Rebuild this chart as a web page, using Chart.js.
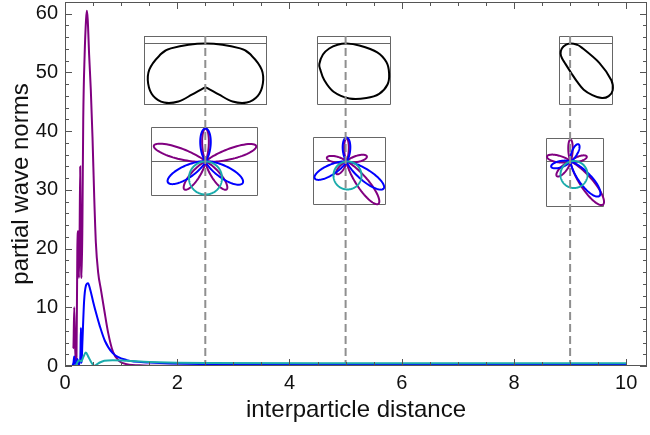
<!DOCTYPE html>
<html>
<head>
<meta charset="utf-8">
<script src="https://cdn.jsdelivr.net/npm/chart.js@4"></script>
<style>
  html, body { margin: 0; padding: 0; background: #fff; }
  #wrap { width: 650px; height: 435px; }
</style>
</head>
<body>
<div id="wrap"><canvas id="chart" width="650" height="435"></canvas></div>
<script>
// axis ticks
const xTicks = [0, 2, 4, 6, 8, 10];
const yTicks = [0, 10, 20, 30, 40, 50, 60];

// partial wave norms
const purpleX = [0.14, 0.15, 0.165, 0.185, 0.205, 0.22, 0.235, 0.248, 0.26, 0.271, 0.285, 0.296, 0.31, 0.325, 0.35, 0.375, 0.39, 0.405, 0.43, 0.46, 0.49, 0.52, 0.55, 0.59, 0.64, 0.7, 0.77, 0.855, 0.97, 1.1, 1.4, 2.0, 3.0, 10];
const purpleY = [3, 3.2, 10, 1, 1.5, 20, 23, 15, 22, 34, 18, 15, 24, 42, 53, 59, 60.5, 59, 53, 47, 39, 29, 21, 16, 13, 9.5, 5.6, 2.4, 0.8, 0.3, 0.1, 0.03, 0.02, 0.02];

const blueX = [0.13, 0.15, 0.165, 0.18, 0.2, 0.22, 0.24, 0.26, 0.275, 0.283, 0.295, 0.31, 0.34, 0.37, 0.41, 0.45, 0.5, 0.56, 0.62, 0.71, 0.85, 1.1, 1.5, 2.4, 5, 10];
const blueY = [0, 0.5, 1.6, 0.2, 0.3, 1.2, 0.2, 0.5, 2, 6.5, 0.5, 4, 11, 13.6, 14.1, 13, 11, 8.8, 6.8, 4.3, 2.2, 1.0, 0.6, 0.35, 0.3, 0.3];

const cyanX = [0.19, 0.22, 0.25, 0.29, 0.33, 0.37, 0.42, 0.47, 0.52, 0.6, 0.7, 0.85, 1.1, 1.5, 2.5, 5, 10];
const cyanY = [0, 0.6, 1.0, 0.8, 1.6, 2.3, 1.5, 0.6, 0.05, 0.5, 0.9, 1.0, 0.9, 0.7, 0.5, 0.45, 0.45];

// where the angular insets sit (interparticle distance) and the dashed markers
const insetX = [2.5, 5, 9];
const markerTop = 56.2;
const upperOriginY = 55;
const lowerOriginY = 35;

// upper insets: polar outline, angle below the horizontal (deg) -> radius
const shapeAngles = [
  [0, 8, 15, 25, 35, 45, 55, 65, 75, 85, 90, 95, 105, 115, 125, 135, 145, 155, 165, 172],
  [0, 9, 16, 25, 35, 45, 57, 70, 87, 105, 121, 135, 143, 155, 164, 172],
  [0, 10, 20, 34, 42, 48, 54, 60, 67, 74, 80, 88, 104, 120, 135, 150, 165]
];
const shapeRadii = [
  [0, 35, 48, 62, 70, 74, 72, 64, 53, 46, 44, 46, 53, 64, 72, 74, 70, 62, 48, 35],
  [0, 13, 32, 44, 52, 58, 60, 58, 55, 50, 43, 37, 34, 26, 18, 9],
  [0, 6, 12, 35, 55, 63, 65, 63, 56, 48, 39, 30, 21, 17, 14, 10, 5]
];

// lower insets: lobes as [direction deg, length, sharpness]
const purpleLobes = [
  [[90, 33, 35], [163, 54, 34], [17, 53, 34], [233, 35, 22], [307, 35, 22]],
  [[90, 23, 35], [169, 20, 16], [14, 21, 16], [232, 16, 14], [307, 53, 28]],
  [[90, 22, 35], [168, 24, 18], [17, 17, 16], [227, 20, 14], [307, 54, 25]]
];
const blueLobes = [
  [[90, 33, 14], [209, 43, 16], [330, 43, 16]],
  [[90, 24, 14], [208, 36, 17], [324, 46, 21]],
  [[65, 19, 14], [195, 20, 14], [310, 45, 18]]
];
const cyanLobes = [
  [[270, 33, 1]],
  [[274, 28, 1]],
  [[285, 27, 1]]
];

// inset frames relative to their origin: left, right, top, bottom
const upperBoxes = [[-61, 61, -7, 61], [-29, 44, -7, 61], [-11, 42, -7, 61]];
const lowerBoxes = [[-54, 52, -34, 34], [-33, 39, -24, 43], [-24, 33, -23, 45]];

const PURPLE = '#800080';
const BLUE = '#0000ff';
const CYAN = '#1aabab';
const FONT = 'Liberation Sans, Arial, sans-serif';

function toPoints(xs, ys) {
  return xs.map((x, i) => ({ x: x, y: ys[i] }));
}

function petal(ctx, ox, oy, lobe) {
  const a0 = lobe[0] * Math.PI / 180;
  const len = lobe[1], n = lobe[2];
  ctx.beginPath();
  const steps = 240;
  for (let i = 0; i <= steps; i++) {
    const phi = -Math.PI / 2 + Math.PI * i / steps;
    const r = len * Math.pow(Math.max(Math.cos(phi), 0), n);
    const a = a0 + phi;
    const px = ox + r * Math.cos(a), py = oy - r * Math.sin(a);
    if (i === 0) ctx.moveTo(px, py); else ctx.lineTo(px, py);
  }
  ctx.closePath();
  ctx.stroke();
}

function outline(ctx, ox, oy, angles, radii) {
  const pts = angles.map((a, i) => {
    const t = a * Math.PI / 180;
    return [ox + radii[i] * Math.cos(t), oy + radii[i] * Math.sin(t)];
  });
  const n = pts.length;
  ctx.beginPath();
  ctx.moveTo(pts[0][0], pts[0][1]);
  for (let i = 0; i < n; i++) {
    const p0 = pts[(i - 1 + n) % n], p1 = pts[i], p2 = pts[(i + 1) % n], p3 = pts[(i + 2) % n];
    ctx.bezierCurveTo(
      p1[0] + (p2[0] - p0[0]) / 6, p1[1] + (p2[1] - p0[1]) / 6,
      p2[0] - (p3[0] - p1[0]) / 6, p2[1] - (p3[1] - p1[1]) / 6,
      p2[0], p2[1]);
  }
  ctx.closePath();
  ctx.stroke();
}

const insetPlugin = {
  id: 'insets',
  beforeDatasetsDraw(chart) {
    const ctx = chart.ctx;
    const xs = chart.scales.x, ys = chart.scales.y;
    ctx.save();
    insetX.forEach((xv, k) => {
      const ox = Math.round(xs.getPixelForValue(xv)) + 0.5;
      // upper inset
      let oy = Math.round(ys.getPixelForValue(upperOriginY)) + 0.5;
      let b = upperBoxes[k];
      ctx.strokeStyle = '#666';
      ctx.lineWidth = 1;
      ctx.strokeRect(ox + b[0], oy + b[2], b[1] - b[0], b[3] - b[2]);
      ctx.beginPath();
      ctx.moveTo(ox + b[0], oy); ctx.lineTo(ox + b[1], oy);
      ctx.stroke();
      ctx.lineWidth = 2;
      ctx.strokeStyle = '#000';
      ctx.lineJoin = 'round';
      outline(ctx, ox, oy, shapeAngles[k], shapeRadii[k]);

      // lower inset
      oy = Math.round(ys.getPixelForValue(lowerOriginY)) + 0.5;
      b = lowerBoxes[k];
      ctx.strokeStyle = '#666';
      ctx.lineWidth = 1;
      ctx.strokeRect(ox + b[0], oy + b[2], b[1] - b[0], b[3] - b[2]);
      ctx.beginPath();
      ctx.moveTo(ox + b[0], oy); ctx.lineTo(ox + b[1], oy);
      ctx.stroke();
      ctx.lineWidth = 2;
      ctx.strokeStyle = PURPLE;
      purpleLobes[k].forEach(l => petal(ctx, ox, oy, l));
      ctx.strokeStyle = BLUE;
      blueLobes[k].forEach(l => petal(ctx, ox, oy, l));
      ctx.strokeStyle = CYAN;
      cyanLobes[k].forEach(l => petal(ctx, ox, oy, l));
    });
    ctx.restore();
  }
};

const framePlugin = {
  id: 'frame',
  afterDatasetsDraw(chart) {
    const ctx = chart.ctx;
    const a = chart.chartArea;
    const xs = chart.scales.x, ys = chart.scales.y;
    ctx.save();
    ctx.strokeStyle = '#555';
    ctx.lineWidth = 1;
    ctx.strokeRect(a.left + 0.5, a.top + 0.5, a.right - a.left - 1, a.bottom - a.top - 1);
    ctx.beginPath();
    for (let v = 0; v <= xs.max + 1e-9; v += 0.5) {
      const len = Math.abs(v % 2) < 1e-9 ? 7 : 4;
      const px = Math.round(xs.getPixelForValue(v)) + 0.5;
      ctx.moveTo(px, a.bottom); ctx.lineTo(px, a.bottom - len);
      ctx.moveTo(px, a.top); ctx.lineTo(px, a.top + len);
    }
    for (let v = 0; v <= ys.max + 1e-9; v += 2) {
      const len = v % 10 === 0 ? 7 : 4;
      const py = Math.round(ys.getPixelForValue(v)) + 0.5;
      ctx.moveTo(a.left, py); ctx.lineTo(a.left + len, py);
      ctx.moveTo(a.right, py); ctx.lineTo(a.right - len, py);
    }
    ctx.stroke();
    ctx.restore();
  }
};

const lineStyle = (color) => ({
  showLine: true,
  borderColor: color,
  borderWidth: 2,
  pointRadius: 0,
  cubicInterpolationMode: 'monotone',
  fill: false
});

const markerSets = insetX.map(xv => ({
  data: [{ x: xv, y: markerTop }, { x: xv, y: 0 }],
  showLine: true,
  borderColor: '#8f8f8f',
  borderWidth: 2,
  borderDash: [8, 4],
  pointRadius: 0,
  clip: false
}));

new Chart(document.getElementById('chart'), {
  type: 'scatter',
  data: {
    datasets: [
      Object.assign({ data: toPoints(cyanX, cyanY) }, lineStyle(CYAN)),
      Object.assign({ data: toPoints(blueX, blueY) }, lineStyle(BLUE)),
      Object.assign({ data: toPoints(purpleX, purpleY) }, lineStyle(PURPLE))
    ].concat(markerSets)
  },
  options: {
    responsive: false,
    animation: false,
    layout: { padding: { top: 2, right: 3, left: 0, bottom: 0 } },
    plugins: { legend: { display: false }, tooltip: { enabled: false } },
    scales: {
      x: {
        type: 'linear',
        min: 0,
        max: 10.37,
        afterBuildTicks: s => { s.ticks = xTicks.map(v => ({ value: v })); },
        afterFit: s => { s.height = 69; s.paddingLeft = 0; s.paddingRight = 0; },
        grid: { display: false, drawTicks: false },
        border: { display: false },
        ticks: { font: { family: FONT, size: 20 }, color: '#111', padding: 5, maxRotation: 0 },
        title: { display: true, text: 'interparticle distance', font: { family: FONT, size: 24 }, color: '#111', padding: { top: 4, bottom: 10 } }
      },
      y: {
        type: 'linear',
        min: 0,
        max: 62,
        afterBuildTicks: s => { s.ticks = yTicks.map(v => ({ value: v })); },
        afterFit: s => { s.width = 65; s.paddingTop = 0; s.paddingBottom = 0; },
        grid: { display: false, drawTicks: false },
        border: { display: false },
        ticks: { font: { family: FONT, size: 20 }, color: '#111', padding: 7 },
        title: { display: true, text: 'partial wave norms', font: { family: FONT, size: 24 }, color: '#111', padding: { top: 7, bottom: 4 } }
      }
    }
  },
  plugins: [insetPlugin, framePlugin]
});
</script>
</body>
</html>
